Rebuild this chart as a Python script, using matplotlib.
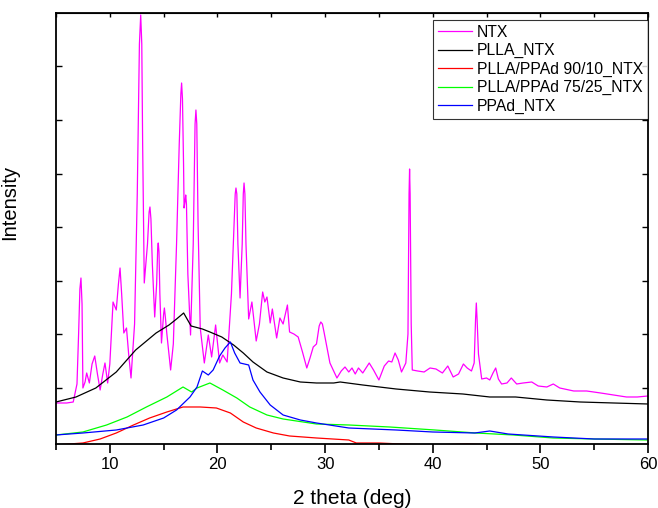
import matplotlib
matplotlib.use('Agg')
import matplotlib.pyplot as plt
import numpy as np

plt.rcParams['font.family'] = ['Liberation Sans', 'DejaVu Sans']

# Intensities (arbitrary units, baseline = bottom of axes)
ntx_x = [5.0, 6.0, 6.6, 6.95, 7.1, 7.22, 7.32, 7.42, 7.5, 7.7, 7.85, 8.1, 8.35, 8.6, 8.85, 9.1, 9.35,
         9.55, 9.8, 10.0, 10.3, 10.6, 10.8, 10.95, 11.1, 11.3, 11.55, 11.75, 11.97, 12.3, 12.55, 12.75,
         12.87, 12.97, 13.05, 13.2, 13.5, 13.65, 13.73, 13.82, 13.95, 14.17, 14.35, 14.45, 14.5, 14.57,
         14.65, 14.8, 15.0, 15.07, 15.15, 15.3, 15.65, 15.9, 16.2, 16.45, 16.6, 16.67, 16.75, 16.85, 16.9,
         17.0, 17.05, 17.12, 17.25, 17.5, 17.75, 17.92, 18.0, 18.08, 18.2, 18.4, 18.78, 19.15, 19.46,
         19.83, 20.2, 20.5, 20.9, 21.3, 21.55, 21.65, 21.72, 21.8, 21.9, 22.1, 22.3, 22.4, 22.47, 22.55,
         22.65, 22.9, 23.2, 23.6, 23.9, 24.2, 24.4, 24.6, 24.9, 25.1, 25.5, 25.8, 26.1, 26.5, 26.7, 27.1,
         27.5, 27.9, 28.3, 28.6, 28.9, 29.2, 29.45, 29.6, 29.75, 29.9, 30.45, 31.1, 31.5, 31.85, 32.2,
         32.5, 32.8, 33.1, 33.5, 34.1, 34.5, 35.0, 35.5, 35.9, 36.2, 36.5, 36.8, 37.1, 37.5, 37.7, 37.8,
         37.85, 37.9, 38.0, 38.1, 38.6, 39.2, 39.75, 40.3, 40.9, 41.4, 41.9, 42.4, 42.85, 43.2, 43.6,
         43.85, 43.98, 44.05, 44.12, 44.25, 44.55, 45.0, 45.3, 45.6, 45.85, 46.1, 46.4, 46.9, 47.3, 47.8,
         48.4, 49.2, 49.8, 50.6, 51.2, 51.8, 53.1, 54.3, 55.6, 56.8, 58.0, 59.0, 60.0]
ntx_y = [41, 41, 42, 60, 110, 155, 166, 140, 56, 62, 71, 61, 80, 88, 70, 54, 70,
         81, 61, 80, 142, 134, 160, 176, 150, 111, 116, 90, 66, 120, 250, 400,
         429, 400, 300, 161, 200, 232, 237, 225, 180, 127, 160, 196, 201, 192,
         150, 101, 130, 136, 128, 110, 74, 100, 200, 300, 350, 361, 345, 280, 236,
         244, 249, 240, 170, 109, 200, 320, 334, 320, 220, 116, 81, 109, 87,
         119, 81, 89, 82, 150, 220, 250, 256, 250, 200, 146, 200, 250, 261, 250,
         200, 125, 142, 103, 120, 152, 142, 147, 121, 135, 106, 126, 120, 139, 112, 110,
         107, 92, 76, 86, 97, 100, 118, 122, 120, 112, 81, 66, 73, 77, 72,
         76, 70, 76, 71, 81, 74, 64, 78, 83, 82, 91, 84, 72, 81, 110, 250,
         275, 250, 120, 74, 73, 72, 76, 75, 71, 78, 67, 70, 80, 76, 73,
         81, 125, 141, 125, 90, 65, 66, 64, 71, 76, 65, 60, 61, 66, 60,
         61, 62, 58, 57, 60, 56, 53, 53, 51, 49, 47, 47, 48]

plla_x = [5.0, 6.86, 8.7, 10.6, 12.4, 14.3, 15.5, 16.2, 16.86, 17.55, 18.6, 19.3, 20.4, 21.5, 22.4,
          23.3, 24.6, 26.1, 27.7, 29.2, 30.8, 31.4, 33.5, 36.6, 39.7, 42.8, 45.3, 47.7, 50.6, 53.7,
          56.8, 60.0]
plla_y = [42, 47, 56, 72, 94, 111, 119, 125, 131, 118, 115, 112, 107, 99, 91,
          82, 72, 66, 62, 61, 61, 62, 59, 55, 52, 50, 47, 47, 44, 42,
          41, 40]

blend90_x = [5.0, 7.5, 9.1, 10.6, 12.2, 13.7, 15.3, 16.8, 18.4, 19.9, 21.2, 22.4, 23.6, 25.2, 26.7,
             29.2, 32.2, 32.9, 35.0, 37.0, 40.0, 43.2, 50.0, 60.0]
blend90_y = [-1, 1, 5, 11, 19, 26, 32, 37, 37, 36, 31, 22, 16, 11, 8,
             6, 4, 1, 1, 0, -1, 0, -3, -5]

blend75_x = [5.0, 7.5, 9.7, 11.6, 13.4, 15.3, 16.8, 17.6, 18.1, 19.3, 20.5, 21.8, 23.0, 24.6, 26.1,
             29.2, 32.2, 36.0, 40.2, 44.0, 47.5, 51.2, 54.9, 60.0]
blend75_y = [9, 12, 19, 27, 37, 47, 57, 52, 56, 61, 54, 46, 37, 29, 25,
             20, 19, 17, 14, 11, 9, 6, 5, 4]

ppad_x = [5.0, 7.5, 10.6, 13.1, 15.0, 16.2, 17.45, 18.1, 18.6, 19.15, 19.6, 20.2, 20.7, 21.2, 21.6,
          22.1, 22.9, 23.3, 23.95, 24.9, 26.1, 27.7, 29.2, 32.2, 36.6, 40.0, 43.9, 45.3, 47.0, 51.2,
          55.0, 60.0]
ppad_y = [9, 11, 14, 19, 26, 34, 47, 57, 73, 69, 74, 88, 96, 102, 91,
          81, 79, 64, 52, 39, 29, 24, 21, 16, 14, 12, 11, 13, 10, 7,
          5, 5]

fig, ax = plt.subplots(figsize=(6.58, 5.08), dpi=100)
fig.subplots_adjust(left=0.0851, right=0.9848, top=0.9744, bottom=0.126)

ax.plot(ntx_x, ntx_y, color='#FF00FF', lw=0.9, label='NTX')
ax.plot(plla_x, plla_y, color='black', lw=0.9, label='PLLA_NTX')
ax.plot(blend90_x, blend90_y, color='#FF0000', lw=0.9, label='PLLA/PPAd 90/10_NTX')
ax.plot(blend75_x, blend75_y, color='#00FF00', lw=0.9, label='PLLA/PPAd 75/25_NTX')
ax.plot(ppad_x, ppad_y, color='#0000FF', lw=0.9, label='PPAd_NTX')

ax.set_xlim(5, 60)
ax.set_ylim(0, 431)
ax.set_xticks([10, 20, 30, 40, 50, 60])
ax.set_xticks([5, 15, 25, 35, 45, 55], minor=True)
ax.set_yticks(np.arange(56, 431, 53.6))
ax.set_yticklabels([])
ax.tick_params(axis='x', which='major', direction='out', length=6.5, width=1.2, labelsize=12, pad=3)
ax.tick_params(axis='x', which='minor', direction='out', length=4, width=1.2)
ax.tick_params(axis='y', which='both', direction='in', length=4, width=1, right=True)
for s in ax.spines.values():
    s.set_linewidth(1.3)

top = ax.secondary_xaxis('top')
top.set_xticks([5, 10, 15, 20, 25, 30, 35, 40, 45, 50, 55, 60])
top.set_xticklabels([])
top.tick_params(direction='in', length=3, width=1)

ax.set_xlabel('2 theta (deg)', fontsize=15, labelpad=12)
ax.set_ylabel('Intensity', fontsize=14.5)
ax.yaxis.set_label_coords(-0.062, 0.56)

leg = ax.legend(loc='upper right', bbox_to_anchor=(1.0, (444 - 20) / 431), borderaxespad=0,
                fontsize=11.3, frameon=True, fancybox=False, labelspacing=0.22,
                handlelength=2.2, handletextpad=0.3, borderpad=0.3)
leg.get_frame().set_edgecolor('black')
leg.get_frame().set_linewidth(0.8)

fig.savefig('out.png', dpi=100)
